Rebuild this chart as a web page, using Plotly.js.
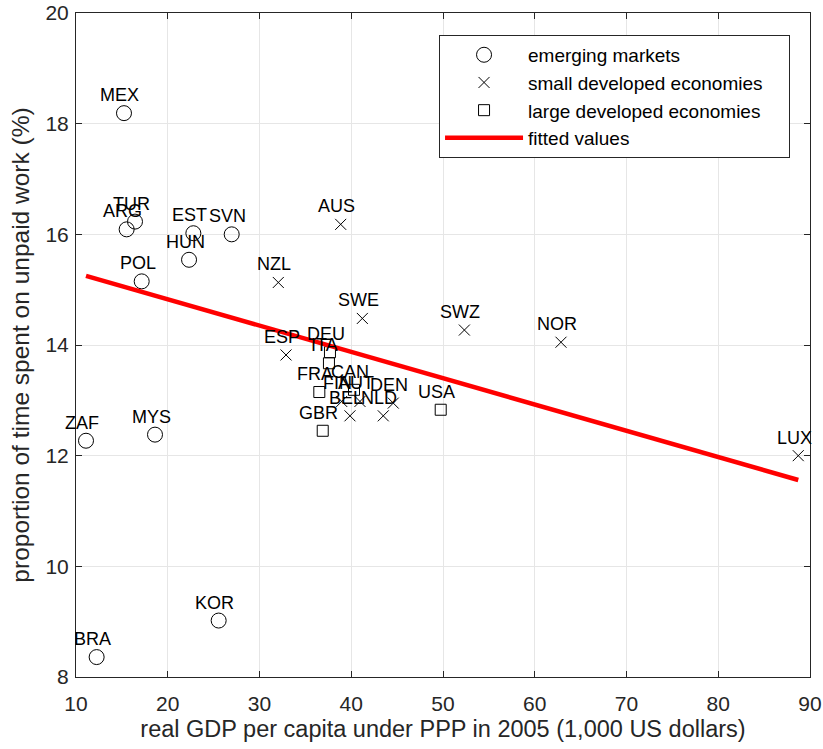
<!DOCTYPE html>
<html>
<head>
<meta charset="utf-8">
<script src="https://cdn.plot.ly/plotly-3.0.1.min.js"></script>
<style>html,body{margin:0;padding:0;background:#fff;}#chart{width:823px;height:749px;}</style>
</head>
<body>
<div id="chart"></div>
<script>
// emerging markets
var emCodes = ['MEX','TUR','ARG','EST','SVN','HUN','POL','ZAF','MYS','KOR','BRA'];
var emX = [15.23,16.43,15.52,22.79,26.97,22.32,17.16,11.09,18.61,25.55,12.25];
var emY = [18.19,16.23,16.09,16.02,16.00,15.54,15.15,12.27,12.38,9.02,8.36];
// small developed economies
var sdCodes = ['NZL','AUS','SWE','SWZ','NOR','LUX','ESP','FIN','AUT','DEN','BEL','NLD'];
var sdX = [32.05,38.85,41.21,52.33,62.86,88.72,32.89,38.96,40.95,44.58,39.86,43.49];
var sdY = [15.13,16.18,14.48,14.27,14.05,12.00,13.82,12.98,12.98,12.95,12.72,12.72];
// large developed economies
var ldCodes = ['DEU','ITA','FRA','CAN','GBR','USA'];
var ldX = [37.68,37.57,36.52,40.30,36.89,49.75];
var ldY = [13.87,13.67,13.15,13.19,12.45,12.83];
// fitted values
var fitX = [11.09, 88.72];
var fitY = [15.25, 11.56];
// legend names
var seriesNames = ['emerging markets', 'small developed economies', 'large developed economies', 'fitted values'];

var txt = '#262626';
var FONT = 'Liberation Sans, Arial, Helvetica, sans-serif';
var PAD = '\u00a0\u00a0\u00a0\u00a0';

var traces = [
  {x: emX, y: emY, mode: 'markers', type: 'scatter', name: seriesNames[0],
   marker: {symbol: 'circle-open', size: 15, color: '#000', line: {width: 1, color: '#000'}}},
  {x: sdX, y: sdY, mode: 'markers', type: 'scatter', name: seriesNames[1] + PAD,
   marker: {symbol: 'x-thin-open', size: 11, color: '#000', line: {width: 1, color: '#000'}}},
  {x: ldX, y: ldY, mode: 'markers', type: 'scatter', name: seriesNames[2],
   marker: {symbol: 'square-open', size: 11, color: '#000', line: {width: 1, color: '#000'}}},
  {x: fitX, y: fitY, mode: 'lines', type: 'scatter', name: seriesNames[3],
   line: {color: '#ff0000', width: 4.5}}
];

var annotations = [];
function addLabels(codes, xs, ys) {
  for (var i = 0; i < codes.length; i++) {
    annotations.push({x: xs[i], y: ys[i], xref: 'x', yref: 'y', text: codes[i],
      showarrow: false, xanchor: 'center', yanchor: 'middle', xshift: -4, yshift: 18,
      font: {family: FONT, size: 18, color: '#000'}});
  }
}
addLabels(emCodes, emX, emY);
addLabels(sdCodes, sdX, sdY);
addLabels(ldCodes, ldX, ldY);

var axisCommon = {
  showgrid: true, gridcolor: '#e6e6e6', gridwidth: 1,
  zeroline: false, showline: true, linecolor: txt, linewidth: 1, mirror: 'ticks',
  ticks: 'inside', ticklen: 6, tickcolor: txt, tickwidth: 1,
  tickfont: {family: FONT, size: 21, color: txt}
};

var layout = {
  width: 823, height: 749,
  margin: {l: 76, r: 13, t: 13, b: 72},
  paper_bgcolor: '#fff', plot_bgcolor: '#fff',
  font: {family: FONT, color: txt},
  showlegend: true,
  legend: {x: 0.4946, y: 0.967, xanchor: 'left', yanchor: 'top',
    bordercolor: txt, borderwidth: 1, bgcolor: '#fff',
    font: {family: FONT, size: 19, color: '#000'}, itemwidth: 78, tracegroupgap: 0},
  xaxis: Object.assign({}, axisCommon, {
    range: [10, 90], dtick: 10, tick0: 10, ticklabelstandoff: 8,
    title: {text: 'real GDP per capita under PPP in 2005 (1,000 US dollars)', font: {family: FONT, size: 23.5, color: txt}, standoff: 6}
  }),
  yaxis: Object.assign({}, axisCommon, {
    range: [8, 20], dtick: 2, tick0: 8, ticklabelstandoff: 2,
    title: {text: 'proportion of time spent on unpaid work (%)', font: {family: FONT, size: 24.5, color: txt}, standoff: 8}
  }),
  annotations: annotations
};

Plotly.newPlot('chart', traces, layout, {displayModeBar: false, staticPlot: true});
</script>
</body>
</html>
